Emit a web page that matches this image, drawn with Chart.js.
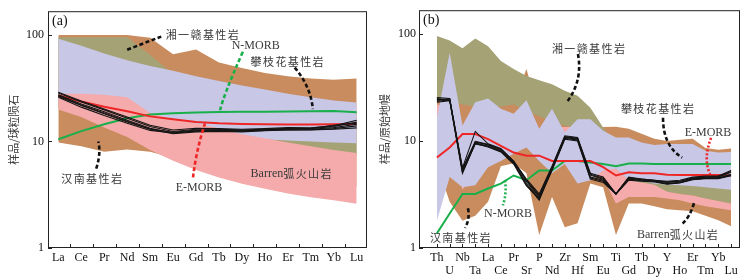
<!DOCTYPE html>
<html>
<head>
<meta charset="utf-8">
<script src="https://cdn.jsdelivr.net/npm/chart.js@4.4.1/dist/chart.umd.min.js"></script>
<style>
  html, body { margin: 0; padding: 0; background: #fff; }
  #wrap { position: relative; width: 752px; height: 280px; }
  canvas { position: absolute; top: 0; }
</style>
</head>
<body>
<div id="wrap">
  <canvas id="chartA" width="376" height="280" style="left:0"></canvas>
  <canvas id="chartB" width="376" height="280" style="left:376px"></canvas>
</div>
<script>
// ---- (a) 球粒陨石标准化稀土配分 ----
const ELEMS_A = ['La', 'Ce', 'Pr', 'Nd', 'Sm', 'Eu', 'Gd', 'Tb', 'Dy', 'Ho', 'Er', 'Tm', 'Yb', 'Lu'];

const hannanTopA = [100, 100, 100, 100, 94, 66, 73, 55, 49, 44, 41, 39, 38, 39];
const hannanLowA = [9.8, 9.0, 8.0, 8.4, 8.0, 7.0, 6.0, 5.5, 5.0, 4.6, 4.3, 4.1, 3.9, 3.75];
const xiangganTopA = [95, 95, 95, 95, 65, 43, 38, 33, 29, 26, 23, 21, 20, 19];
const xiangganLowA = [21, 19, 16, 13.5, 11, 10, 9.5, 9, 8.5, 8.2, 8.0, 7.8, 7.6, 7.5];
const panzhihuaTopA = [92, 79, 67, 58, 51, 46, 41, 37, 33.5, 30.7, 28, 26, 24.2, 23.2];
const panzhihuaLowA = [24, 22, 20, 17, 15, 13, 12, 11.5, 11, 10.5, 10.2, 10, 9.8, 9.6];
const barrenTopA = [28, 28, 27.5, 26, 18.5, 16.2, 14.8, 13.3, 11.7, 10.7, 9.8, 9.0, 8.3, 7.8];
const barrenLowA = [20, 17, 13.5, 11, 8.3, 6.6, 5.4, 4.6, 4.0, 3.6, 3.25, 3.0, 2.8, 2.6];

const nmorbA = [10.5, 12.5, 14.5, 16.5, 17.9, 18.4, 18.7, 18.9, 19.0, 19.0, 19.1, 19.2, 19.3, 18.8];
const emorbA = [27, 23.7, 21.2, 19.2, 17.2, 16.2, 15.2, 14.8, 14.6, 14.5, 14.4, 14.4, 14.5, 14.6];
const samplesA = [
  [28.5, 23.5, 19.8, 16.5, 13.8, 12.4, 13.0, 13.0, 12.8, 13.0, 13.3, 13.2, 13.8, 15.2],
  [27.5, 22.5, 19.0, 15.8, 13.3, 12.0, 12.6, 12.7, 12.6, 12.8, 13.0, 13.0, 13.5, 14.5],
  [26.5, 21.8, 18.2, 15.2, 13.0, 11.8, 12.3, 12.4, 12.3, 12.6, 12.8, 12.9, 13.2, 14.0],
  [26.0, 21.0, 17.5, 14.8, 12.7, 12.0, 12.5, 12.5, 12.5, 12.7, 12.9, 12.8, 13.0, 13.4],
  [29.0, 24.0, 20.2, 17.0, 14.2, 12.8, 13.3, 13.2, 13.0, 13.2, 13.5, 13.4, 14.0, 15.8],
  [27.0, 22.0, 18.5, 15.5, 13.1, 12.2, 12.8, 12.9, 12.7, 12.9, 13.1, 13.3, 14.2, 14.8]
];

// ---- (b) 原始地幔标准化微量元素蛛网图 ----
const ELEMS_B = ['Th', 'U', 'Nb', 'Ta', 'La', 'Ce', 'Pr', 'Sr', 'P', 'Nd', 'Zr', 'Hf',
                 'Sm', 'Eu', 'Ti', 'Gd', 'Tb', 'Dy', 'Y', 'Ho', 'Er', 'Tm', 'Yb', 'Lu'];

const hannanTopB = [30, 25, 23, 22, 22, 22, 23, 47, 18, 16, 15, 14, 13, 13.5, 13.6, 13, 11.7, 10.5, 10, 10.3, 10.5, 8.6, 8.3, 8.5];
const hannanLowB = [6, 2.7, 1.8, 2.0, 2.7, 5.8, 6.2, 5, 1.32, 3.0, 1.56, 1.7, 4.0, 3.7, 1.32, 2.6, 2.6, 2.45, 2.3, 2.25, 2.2, 2.0, 1.82, 1.6];
const xiangganTopB = [96, 87, 73.6, 91, 77, 56, 47, 40.6, 37, 34, 29.5, 26.5, 20.5, 13.4, 9, 8, 7.5, 7, 6.5, 6.5, 6.5, 6.5, 6.3, 6.3];
const xiangganLowB = [25, 24, 22, 21, 21, 21, 22, 19, 17, 15, 14, 13, 12.5, 5, 4.5, 3.8, 3.6, 3.5, 3.35, 3.2, 3.1, 2.9, 2.75, 2.6];
const panzhihuaTopB = [16.6, 67, 14, 23, 25, 20, 18, 24, 13, 20, 12, 16, 16, 12.5, 10.8, 10.8, 9.7, 9.2, 9.4, 9.4, 9.4, 8.1, 7.8, 7.9];
const panzhihuaLowB = [1.8, 4.6, 3.7, 3.85, 5.7, 6.5, 7.6, 8.7, 6.5, 5, 6.1, 4, 4.3, 5.3, 5.5, 4.3, 4.2, 4.0, 3.9, 3.85, 3.8, 3.7, 3.6, 3.5];
const barrenTopB = [22, 20, 6, 8, 9, 9, 10, 12, 9, 13.5, 13.5, 13.5, 11, 6.5, 5.5, 4.3, 4.1, 3.9, 3.35, 3.2, 3.1, 2.9, 2.75, 2.6];
const barrenLowB = [15, 12, 3.5, 5, 7, 7, 8, 9, 7, 9, 9, 9, 5, 4.5, 2.6, 3.0, 3.0, 3.0, 2.9, 2.8, 2.6, 2.45, 2.35, 2.25];

const nmorbB = [1.37, 2.1, 3.2, 3.2, 3.6, 4.0, 4.76, 4.3, 5.3, 5.3, 6.5, 6.5, 6.3, 6.1, 5.8, 6.15, 6.15, 6.1, 6.1, 6.1, 6.1, 6.1, 6.1, 6.1];
const emorbB = [7.0, 8.7, 11.6, 11.6, 10.4, 9.0, 7.8, 7.3, 7.3, 6.5, 6.5, 6.5, 6.5, 5.7, 4.76, 5.1, 5.0, 5.0, 4.85, 4.8, 4.8, 4.8, 4.8, 4.75];
const samplesB = [
  [25.5, 25.0, 5.6, 12.3, 9.4, 8.5, 6.5, 4.4, 3.2, 5.8, 11.2, 10.8, 5.0, 4.6, 3.2, 4.6, 4.4, 4.3, 4.2, 4.3, 4.6, 4.7, 4.7, 5.3],
  [24.5, 24.5, 5.4, 9.8, 9.2, 8.3, 6.4, 4.2, 3.0, 5.6, 11.0, 10.6, 4.8, 4.4, 3.2, 4.5, 4.4, 4.3, 4.1, 4.2, 4.5, 4.6, 4.6, 5.1],
  [24.0, 24.8, 5.2, 9.6, 9.0, 8.1, 6.3, 4.0, 2.9, 5.5, 10.8, 10.4, 4.6, 4.3, 3.2, 4.4, 4.3, 4.2, 4.0, 4.1, 4.4, 4.5, 4.5, 4.9],
  [23.5, 24.2, 5.1, 9.4, 8.9, 8.0, 6.2, 3.9, 2.8, 5.4, 10.6, 10.2, 4.5, 4.2, 3.2, 4.35, 4.25, 4.2, 4.0, 4.1, 4.4, 4.5, 4.5, 4.8],
  [25.0, 24.0, 5.5, 9.9, 9.3, 8.4, 6.5, 4.3, 3.1, 5.7, 10.9, 10.5, 4.9, 4.5, 3.2, 4.55, 4.35, 4.25, 4.15, 4.2, 4.5, 4.6, 4.65, 5.2],
  [23.0, 23.8, 5.0, 9.5, 8.8, 7.9, 6.1, 3.8, 2.9, 5.3, 10.4, 10.0, 4.4, 4.1, 3.2, 4.3, 4.2, 4.15, 3.95, 4.05, 4.35, 4.45, 4.45, 4.75]
];

const Y_TICKS = [1, 10, 100];

// 注释文字与引线 (数据坐标: x = 元素序号, y = 标准化值)
const notesA = [
  { text: '湘一赣基性岩', x: 6.3, y: 100 },
  { text: 'N-MORB', x: 8.6, y: 79 },
  { text: '攀枝花基性岩', x: 10, y: 56 },
  { text: '汉南基性岩', x: 1.48, y: 4.45 },
  { text: 'E-MORB', x: 6.13, y: 3.68 },
  { text: 'Barren弧火山岩', x: 10.17, y: 4.97 }
];
const leadersA = [
  { p: [3.0, 72.5, 3.8, 85, 4.57, 98], color: '#111', dash: [4, 2.5] },
  { p: [8.04, 69.4, 7.17, 26.4, 7.04, 19.2], color: '#19b04b', dash: [4, 2.5] },
  { p: [10.3, 49.3, 11.0, 32.8, 11.09, 20.1], color: '#111', dash: [4, 2.5] },
  { p: [1.65, 5.55, 1.87, 7.8, 1.74, 10], color: '#111', dash: [4, 2.5] },
  { p: [5.87, 4.6, 6.0, 8.1, 6.39, 14.8], color: '#ee2626', dash: [4, 2.5] }
];
const notesB = [
  { text: '湘一赣基性岩', x: 11.9, y: 72.5 },
  { text: '攀枝花基性岩', x: 17.3, y: 20 },
  { text: 'E-MORB', x: 21.2, y: 12 },
  { text: 'N-MORB', x: 5.56, y: 2.1 },
  { text: '汉南基性岩', x: 1.88, y: 1.24 },
  { text: 'Barren弧火山岩', x: 18.86, y: 1.32 }
];
const leadersB = [
  { p: [11.03, 65.1, 11.42, 36.5, 10.17, 23.2], color: '#111', dash: [4, 2.5] },
  { p: [17.68, 16.5, 17.68, 9.0, 19.17, 7.0], color: '#111', dash: [4, 2.5] },
  { p: [21.44, 10.7, 20.8, 6.8, 21.36, 4.9], color: '#ee2626', dash: [2, 2] },
  { p: [5.32, 4.28, 5.48, 3.3, 5.16, 2.5], color: '#19b04b', dash: [2, 2] },
  { p: [2.43, 2.35, 2.6, 1.85, 2.19, 1.54], color: '#111', dash: [4, 2.5] },
  { p: [20.1, 2.63, 19.8, 1.95, 19.17, 1.68], color: '#111', dash: [4, 2.5] }
];

const BROWN = '#c98c5f';
const OLIVE = '#a5a275';
const LAVENDER = '#c9c7e6';
const PINK = '#f5abab';
const RED = '#ee2626';
const GREEN = '#19b04b';
const BLACK = '#141414';
const SERIF = '"Liberation Serif", "DejaVu Serif", serif';
const CJK = '"Noto Sans CJK SC", sans-serif';

function pts(arr) {
  return arr.map((v, i) => ({ x: i, y: v }));
}

function band(low, high, color, order) {
  return [
    { data: pts(low), borderColor: 'rgba(0,0,0,0)', borderWidth: 0, pointRadius: 0, fill: false, order: order },
    { data: pts(high), borderColor: 'rgba(0,0,0,0)', borderWidth: 0, pointRadius: 0, fill: '-1', backgroundColor: color, order: order }
  ];
}

function line(arr, color, width, order) {
  return { data: pts(arr), borderColor: color, borderWidth: width, pointRadius: 0, fill: false, tension: 0, order: order };
}

// 中文加字距, 拉丁字母用衬线体
function drawLabel(ctx, text, cx, cy) {
  const isCjk = ch => /[\u3000-\u9fff]/.test(ch);
  const parts = [...text].map(ch => ({ ch: ch, font: isCjk(ch) ? '11px ' + CJK : '12px ' + SERIF, gap: isCjk(ch) ? 1.4 : 0 }));
  let total = 0;
  parts.forEach(p => { ctx.font = p.font; p.w = ctx.measureText(p.ch).width + p.gap; total += p.w; });
  let x = cx - total / 2;
  ctx.fillStyle = '#3a3a3a';
  ctx.textBaseline = 'middle';
  ctx.textAlign = 'left';
  parts.forEach(p => { ctx.font = p.font; ctx.fillText(p.ch, x, cy); x += p.w; });
}

function decor(tag, notes, leaders, tickPos) {
  return {
    id: 'decor' + tag,
    afterDraw(chart) {
      const ctx = chart.ctx;
      const { left, right, top, bottom } = chart.chartArea;
      const sx = chart.scales.x, sy = chart.scales.y;
      ctx.save();
      // 引线
      leaders.forEach(l => {
        ctx.beginPath();
        ctx.setLineDash(l.dash);
        ctx.lineWidth = 2.6;
        ctx.strokeStyle = l.color;
        ctx.moveTo(sx.getPixelForValue(l.p[0]), sy.getPixelForValue(l.p[1]));
        ctx.quadraticCurveTo(sx.getPixelForValue(l.p[2]), sy.getPixelForValue(l.p[3]),
                             sx.getPixelForValue(l.p[4]), sy.getPixelForValue(l.p[5]));
        ctx.stroke();
      });
      ctx.setLineDash([]);
      notes.forEach(n => drawLabel(ctx, n.text, sx.getPixelForValue(n.x), sy.getPixelForValue(n.y)));
      // 边框与内向刻度
      ctx.strokeStyle = '#222';
      ctx.lineWidth = 1;
      ctx.strokeRect(left + 0.5, top + 0.5, right - left - 1, bottom - top - 1);
      ctx.beginPath();
      Y_TICKS.forEach(v => {
        const y = Math.round(sy.getPixelForValue(v)) + 0.5;
        ctx.moveTo(left, y);
        ctx.lineTo(left + 4, y);
      });
      tickPos.forEach(t => {
        const x = Math.round(sx.getPixelForValue(t)) + 0.5;
        ctx.moveTo(x, bottom);
        ctx.lineTo(x, bottom - 4);
      });
      ctx.stroke();
      ctx.fillStyle = '#111';
      ctx.font = '14px ' + SERIF;
      ctx.textBaseline = 'middle';
      ctx.textAlign = 'left';
      ctx.fillText('(' + tag + ')', left + 4, top + 10);
      ctx.restore();
    }
  };
}

function yAxis(width, title, titlePad, labelPad) {
  return {
    type: 'logarithmic',
    min: 1,
    max: 167,
    grid: { display: false, drawTicks: false },
    border: { display: false },
    afterBuildTicks: s => { s.ticks = Y_TICKS.map(v => ({ value: v })); },
    afterFit: s => { s.width = width; },
    ticks: { padding: labelPad, color: '#111', font: { family: SERIF, size: 12 }, callback: v => String(v) },
    title: { display: true, text: title, color: '#3a3a3a', font: { family: CJK, size: 11 }, padding: { top: titlePad, bottom: 0 } }
  };
}

const baseOptions = {
  responsive: false,
  animation: false,
  events: [],
  plugins: { legend: { display: false }, tooltip: { enabled: false } }
};

new Chart(document.getElementById('chartA'), {
  type: 'line',
  data: {
    datasets: [
      ...band(hannanLowA, hannanTopA, BROWN, 10),
      ...band(xiangganLowA, xiangganTopA, OLIVE, 9),
      ...band(panzhihuaLowA, panzhihuaTopA, LAVENDER, 8),
      ...band(barrenLowA, barrenTopA, PINK, 7),
      line(nmorbA, GREEN, 2, 4),
      line(emorbA, RED, 2, 3),
      ...samplesA.map(s => line(s, BLACK, 1.1, 1))
    ]
  },
  options: Object.assign({}, baseOptions, {
    layout: { padding: { left: 0, right: 9, top: 9, bottom: 0 } },
    scales: {
      x: {
        type: 'linear',
        min: -0.45,
        max: 13.45,
        grid: { display: false, drawTicks: false },
        border: { display: false },
        afterBuildTicks: s => { s.ticks = ELEMS_A.map((e, i) => ({ value: i })); },
        afterFit: s => { s.height = 32; },
        ticks: { autoSkip: false, maxRotation: 0, minRotation: 0, padding: 3, color: '#111',
                 font: { family: SERIF, size: 12 }, callback: v => ELEMS_A[v] }
      },
      y: yAxis(48, '样品/球粒陨石', 7, 4)
    }
  }),
  plugins: [decor('a', notesA, leadersA, ELEMS_A.slice(1).map((e, i) => i + 0.5))]
});

new Chart(document.getElementById('chartB'), {
  type: 'line',
  data: {
    datasets: [
      ...band(hannanLowB, hannanTopB, BROWN, 10),
      ...band(xiangganLowB, xiangganTopB, OLIVE, 9),
      ...band(barrenLowB, barrenTopB, PINK, 8),
      ...band(panzhihuaLowB, panzhihuaTopB, LAVENDER, 7),
      line(nmorbB, GREEN, 2, 4),
      line(emorbB, RED, 2, 3),
      ...samplesB.map(s => line(s, BLACK, 1.1, 1))
    ]
  },
  options: Object.assign({}, baseOptions, {
    layout: { padding: { left: 0, right: 12, top: 9, bottom: 0 } },
    scales: {
      x: {
        type: 'linear',
        min: -1.4,
        max: 23.7,
        grid: { display: false, drawTicks: false },
        border: { display: false },
        afterBuildTicks: s => { s.ticks = ELEMS_B.map((e, i) => ({ value: i })); },
        afterFit: s => { s.height = 32; },
        ticks: { autoSkip: false, maxRotation: 0, minRotation: 0, padding: 3, color: '#111',
                 font: { family: SERIF, size: 12, lineHeight: 1.08 },
                 callback: v => (v % 2 === 0 ? [ELEMS_B[v], ''] : ['', ELEMS_B[v]]) }
      },
      y: yAxis(43, '样品/原始地幔', 2.4, 3)
    }
  }),
  plugins: [decor('b', notesB, leadersB, ELEMS_B.map((e, i) => i))]
});
</script>
</body>
</html>
